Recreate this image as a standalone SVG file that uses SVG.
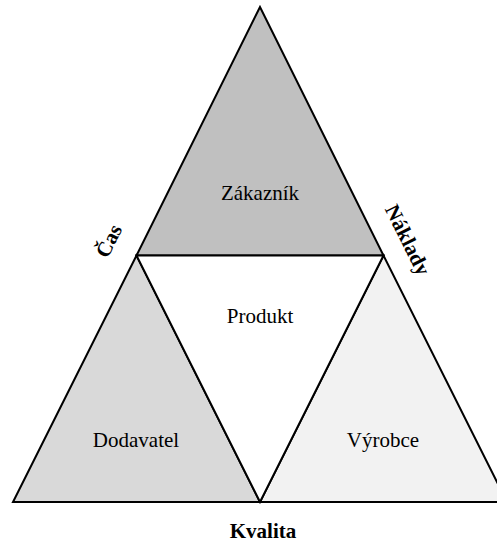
<svg xmlns="http://www.w3.org/2000/svg" width="497" height="544" viewBox="0 0 497 544">
  <style>
    .tri { stroke: #000; stroke-width: 2; stroke-linejoin: miter; }
    .top { fill: #c0c0c0; }
    .left { fill: #d9d9d9; }
    .right { fill: #f2f2f2; }
    .mid { fill: #ffffff; }
    .lbl { font-family: "Liberation Serif", "Times New Roman", serif; font-size: 21px; fill: #000; text-anchor: middle; }
    .edge { font-family: "Liberation Serif", "Times New Roman", serif; font-size: 21px; font-weight: bold; fill: #000; text-anchor: middle; }
  </style>
  <rect width="497" height="544" fill="#ffffff"/>

  <g id="zakaznik">
    <polygon class="tri top" points="260,7 136.5,255.5 383.5,255.5"/>
    <text class="lbl" x="260" y="200">Zákazník</text>
  </g>

  <g id="dodavatel">
    <polygon class="tri left" points="136.5,255.5 13,502 260,502"/>
    <text class="lbl" x="136" y="447">Dodavatel</text>
  </g>

  <g id="vyrobce">
    <polygon class="tri right" points="383.5,255.5 260,502 507,502"/>
    <text class="lbl" x="383" y="447">Výrobce</text>
  </g>

  <g id="produkt">
    <polygon class="tri mid" points="136.5,255.5 383.5,255.5 260,502"/>
    <text class="lbl" x="260" y="323">Produkt</text>
  </g>

  <g id="connectors"></g>

  <!-- side labels of the outer triangle -->
  <g id="cas">
    <text class="edge" x="0" y="0" transform="translate(115,244) rotate(-63.4)">Čas</text>
  </g>
  <g id="naklady">
    <text class="edge" x="0" y="0" transform="translate(401.5,243) rotate(63.4)">Náklady</text>
  </g>
  <g id="kvalita">
    <text class="edge" x="263" y="538">Kvalita</text>
  </g>
</svg>
